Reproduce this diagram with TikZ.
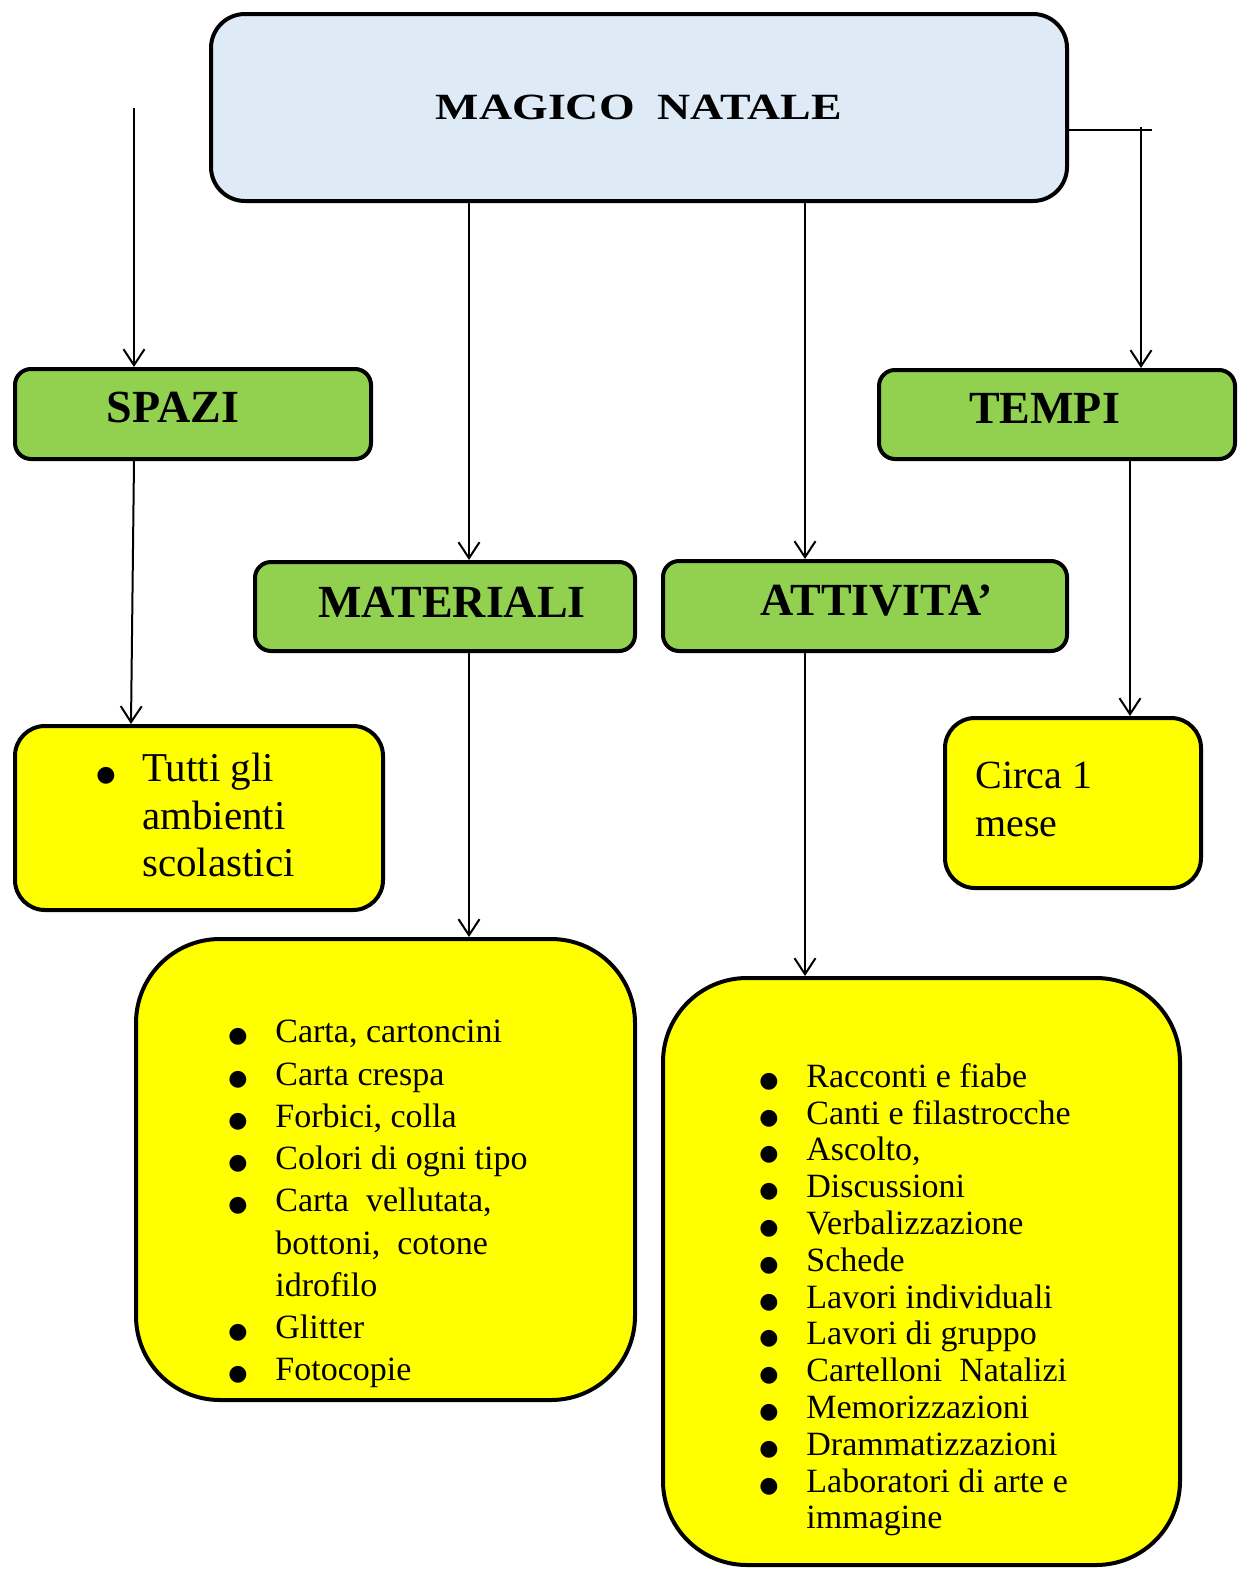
\documentclass[tikz,border=0pt]{standalone}
\usepackage{fontspec}
\setmainfont{Liberation Serif}
\newfontfamily\dotfont{DejaVu Sans}
\usetikzlibrary{arrows.meta}
\definecolor{titleblue}{HTML}{DEEBF7}
\definecolor{headgreen}{HTML}{92D050}
\definecolor{listyellow}{HTML}{FFFF00}
\newcommand{\blt}[1][23.5pt]{\makebox[#1][l]{{\dotfont\fontsize{11}{11}\selectfont ●}}}
\newcommand{\nob}[1][23.5pt]{\hspace*{#1}}

\begin{document}
\begin{tikzpicture}[x=0.5pt,y=-0.5pt,
    head/.style={draw=black,line width=2pt,fill=headgreen,rounded corners=8pt,inner sep=0pt},
    headtxt/.style={inner sep=0pt,font=\fontsize{23}{27}\selectfont\bfseries},
    listbox/.style={draw=black,line width=2pt,fill=listyellow,inner sep=0pt},
    listtext/.style={anchor=north west,inner sep=0pt,align=left}]
    \useasboundingbox (0,0) rectangle (1247,1569);

    %title
    \node [draw=black,line width=2pt,fill=titleblue,rounded corners=17pt,
        minimum width=428pt,minimum height=93.5pt,
        font=\fontsize{18.5}{22}\selectfont\bfseries] (title) at (639,107.5)
        {\scalebox{1.24}[1]{MAGICO~~NATALE}};

    %headings
    \node [head,minimum width=178pt,minimum height=45pt] (spazi) at (193,414) {};
    \node [head,minimum width=178pt,minimum height=44.5pt] (tempi) at (1057,414.5) {};
    \node [head,minimum width=190pt,minimum height=44.5pt] (mat) at (445,606.5) {};
    \node [head,minimum width=202pt,minimum height=45pt] (att) at (865,606) {};
    \node [headtxt] (spazitxt) at ([xshift=-10pt,yshift=3.25pt]spazi.center) {SPAZI};
    \node [headtxt] (tempitxt) at ([xshift=-6.25pt,yshift=3pt]tempi.center) {TEMPI};
    \node [headtxt] (mattxt0) at ([xshift=3.5pt,yshift=2.25pt]mat.center) {MATERIALI};
    \node [headtxt] (atttxt0) at ([xshift=6pt,yshift=2.75pt]att.center) {ATTIVITA’};

    %yellow boxes
    \node [listbox,rounded corners=15pt,minimum width=184pt,minimum height=92pt] (tutti) at (199,818) {};
    \node [listbox,rounded corners=15pt,minimum width=128pt,minimum height=85pt] (circa) at (1073,803) {};
    \node [listbox,rounded corners=42pt,minimum width=249.5pt,minimum height=230.5pt] (matlist) at (385.5,1169.5) {};
    \node [listbox,rounded corners=42pt,minimum width=258.5pt,minimum height=293.5pt] (attlist) at (921.5,1271.5) {};

    %texts in the boxes
    \node [listtext,font=\fontsize{20.5}{23.75}\selectfont] (tuttitxt) at (96,753)
        {\blt[22.85pt]Tutti gli\\ \nob[22.85pt]ambienti\\ \nob[22.85pt]scolastici};
    \node [listtext,font=\fontsize{20}{24}\selectfont] (circatxt) at (975,762)
        {Circa 1\\ mese};
    \node [listtext,font=\fontsize{17}{21.125}\selectfont] (mattxt) at (228,1020)
        {\blt Carta, cartoncini\\
         \blt Carta crespa\\
         \blt Forbici, colla\\
         \blt Colori di ogni tipo\\
         \blt Carta~ vellutata,\\
         \nob bottoni,~ cotone\\
         \nob idrofilo\\
         \blt Glitter\\
         \blt Fotocopie};
    \node [listtext,font=\fontsize{17}{18.4}\selectfont] (atttxt) at (759,1063)
        {\blt Racconti e fiabe\\
         \blt Canti e filastrocche\\
         \blt Ascolto,\\
         \blt Discussioni\\
         \blt Verbalizzazione\\
         \blt Schede\\
         \blt Lavori individuali\\
         \blt Lavori di gruppo\\
         \blt Cartelloni~ Natalizi\\
         \blt Memorizzazioni\\
         \blt Drammatizzazioni\\
         \blt Laboratori di arte e\\
         \nob immagine};

    %connectors
    \begin{scope}[>={Straight Barb[length=8pt,width=10.5pt]},
                every edge/.style={draw=black,line width=1pt}]
        \coordinate (ltop) at (134,108);
        \coordinate (rtop) at (1141,127);
        \coordinate (rend) at (1152,130);
        \path [->] (ltop) edge ([xshift=-29.5pt]spazi.north);
        \path [->] ([xshift=-29.5pt]spazi.south) edge ([xshift=-34pt]tutti.north);
        \path [->] ([xshift=12pt]mat.north |- title.south) edge ([xshift=12pt]mat.north);
        \path [->] ([xshift=-30pt]att.north |- title.south) edge ([xshift=-30pt]att.north);
        \path ([yshift=-11.25pt]title.east) edge (rend);
        \path [->] (rtop) edge ([xshift=42pt]tempi.north);
        \path [->] ([xshift=36.5pt]tempi.south) edge ([xshift=28.5pt]circa.north);
        \path [->] ([xshift=12pt]mat.south) edge ([xshift=12pt]mat.south |- matlist.north);
        \path [->] ([xshift=-30pt]att.south) edge ([xshift=-30pt]att.south |- attlist.north);
    \end{scope}
\end{tikzpicture}
\end{document}
